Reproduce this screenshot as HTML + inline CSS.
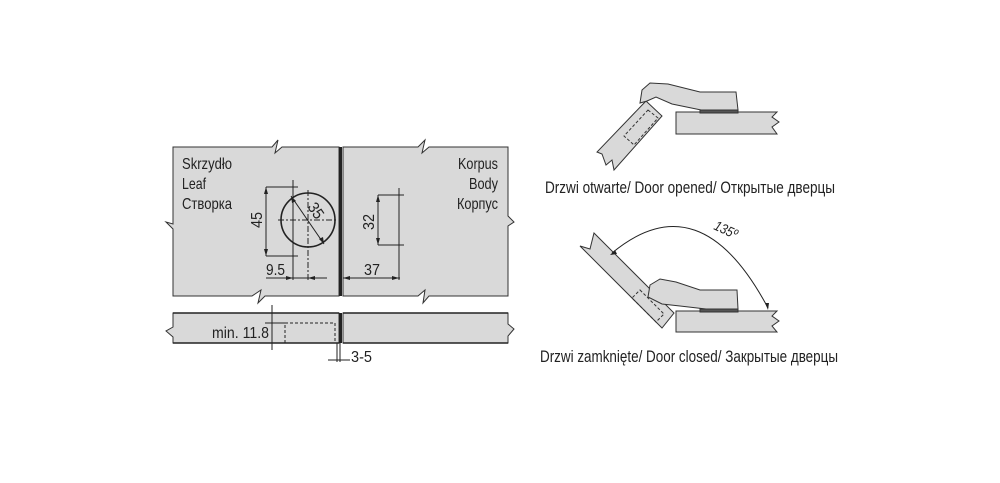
<!DOCTYPE html>
<html><head><meta charset="utf-8"><style>
html,body{margin:0;padding:0;background:#fff;}
svg{display:block;}
text{font-family:"Liberation Sans Narrow","Liberation Sans",sans-serif;fill:#222;}
</style></head><body>
<svg width="1000" height="483" viewBox="0 0 1000 483" xmlns="http://www.w3.org/2000/svg">
<g stroke="#333" stroke-width="1" fill="#d9d9d9">
<path d="M173,147 H272 L278,140 L275,153 L282,147 H339 V296 H265 L258,303 L261,290 L252,296 H173 V229 L166,222 L173,224 Z"/>
<path d="M343,147 H418 L425,140 L422,153 L429,147 H508 V216 L514,222 L508,226 V296 H429 L423,303 L425,290 L418,296 H343 Z"/>
<path d="M173,313 H339 V343 H173 V337 L166,331 L173,327 Z"/>
<path d="M343,313 H508 V324 L514,329 L508,336 V343 H343 Z"/>
</g>
<g stroke="#222" stroke-width="1.5" fill="none">
<line x1="173" y1="313" x2="339" y2="313"/><line x1="343" y1="313" x2="508" y2="313"/>
<line x1="173" y1="343" x2="339" y2="343"/><line x1="343" y1="343" x2="508" y2="343"/>
<line x1="340.5" y1="147" x2="340.5" y2="296" stroke-width="3"/>
<line x1="340.5" y1="313" x2="340.5" y2="343" stroke-width="3"/>
</g>
<g stroke="#222" stroke-width="1" fill="none">
<circle cx="308" cy="220" r="27" stroke-width="1.6"/>
<line x1="278" y1="220" x2="338" y2="220" stroke-dasharray="6,2,2,2"/>
<line x1="308" y1="190" x2="308" y2="280" stroke-dasharray="6,2,2,2"/>
<line x1="291" y1="196" x2="324" y2="244"/>
<line x1="266" y1="187" x2="266" y2="256"/>
<line x1="266" y1="187" x2="298" y2="187"/><line x1="266" y1="256" x2="298" y2="256"/>
<line x1="293" y1="180" x2="293" y2="280"/>
<line x1="266" y1="278" x2="327" y2="278"/>
<line x1="378" y1="195" x2="378" y2="245"/>
<line x1="378" y1="195" x2="404" y2="195"/><line x1="378" y1="245" x2="404" y2="245"/>
<line x1="399" y1="188" x2="399" y2="280"/>
<line x1="343" y1="278" x2="400" y2="278"/>
<rect x="285" y="323" width="50" height="20" stroke-dasharray="3,2"/>
<line x1="272" y1="305" x2="272" y2="350"/>
<line x1="265" y1="323" x2="285" y2="323"/>
<line x1="337" y1="343" x2="337" y2="362"/><line x1="340" y1="343" x2="340" y2="362"/>
<line x1="328" y1="360" x2="350" y2="360"/>
</g>
<g fill="#222">
<path d="M266,187 l-2,7 h4z"/><path d="M266,256 l-2,-7 h4z"/>
<path d="M378,195 l-2,7 h4z"/><path d="M378,245 l-2,-7 h4z"/>
<path d="M293,278 l-7,-2 v4z"/><path d="M308,278 l7,-2 v4z"/>
<path d="M343,278 l7,-2 v4z"/><path d="M399,278 l-7,-2 v4z"/>
<path d="M291,196 l1,7 l4,-2z"/><path d="M324,244 l-1,-7 l-4,2z"/>
</g>
<g font-size="16" lengthAdjust="spacingAndGlyphs">
<text x="182" y="169" textLength="50" lengthAdjust="spacingAndGlyphs">Skrzydło</text>
<text x="182" y="189" textLength="24" lengthAdjust="spacingAndGlyphs">Leaf</text>
<text x="182" y="209" textLength="50" lengthAdjust="spacingAndGlyphs">Створка</text>
<text x="458" y="169" textLength="40" lengthAdjust="spacingAndGlyphs">Korpus</text>
<text x="469" y="189" textLength="29" lengthAdjust="spacingAndGlyphs">Body</text>
<text x="457" y="209" textLength="41" lengthAdjust="spacingAndGlyphs">Корпус</text>
<text x="266" y="275" textLength="19" lengthAdjust="spacingAndGlyphs">9.5</text>
<text x="364" y="275" textLength="16" lengthAdjust="spacingAndGlyphs">37</text>
<text x="212" y="338" textLength="57" lengthAdjust="spacingAndGlyphs">min. 11.8</text>
<text x="351" y="362" textLength="21" lengthAdjust="spacingAndGlyphs">3-5</text>
<text transform="translate(262,228) rotate(-90)" textLength="16" lengthAdjust="spacingAndGlyphs">45</text>
<text transform="translate(374,230) rotate(-90)" textLength="16" lengthAdjust="spacingAndGlyphs">32</text>
<text transform="translate(307,207) rotate(56)" textLength="16" lengthAdjust="spacingAndGlyphs">35</text>
</g>
<!-- open door -->
<g stroke="#333" stroke-width="1" fill="#d9d9d9">
<path d="M676,112 H777 L772,117 L779,122 L772,127 L777,134 H676 Z"/>
<path d="M646,101 L662,116 L614,170 L612,160 L606,165 L602,154 L597,152 Z"/>
<path d="M640,103 L642,90 L650,83 L668,84 L700,92 L736,92 L738,110 L706,111 L672,104 L656,97 L647,101 Z"/>
<rect x="700" y="110" width="38" height="3" fill="#555"/>
<path d="M648,110 L658,118 L634,145 L624,136 Z" fill="none" stroke-dasharray="3,2"/>
</g>
<text x="545" y="193" font-size="17" textLength="290" lengthAdjust="spacingAndGlyphs">Drzwi otwarte/ Door opened/ Открытые дверцы</text>
<!-- closed door -->
<g stroke="#333" stroke-width="1" fill="#d9d9d9">
<path d="M676,311 H777 L772,316 L779,321 L772,326 L777,332 H676 Z"/>
<path d="M594,233 L674,313 L662,328 L580,246 L590,249 Z"/>
<path d="M648,297 L650,285 L660,279 L676,282 L700,290 L737,290 L738,309 L706,309 L680,306 L662,304 Z"/>
<rect x="700" y="309" width="38" height="3" fill="#555"/>
<path d="M640,290 L664,314 L656,322 L632,298 Z" fill="none" stroke-dasharray="3,2"/>
</g>
<path d="M612,253 Q700,180 768,308" stroke="#222" fill="none"/>
<path d="M610,255 l7,-1 l-2,-4z M768,310 l-3,-7 l4,0z" fill="#222"/>
<text transform="translate(713,229) rotate(25)" font-size="14" font-style="italic" textLength="24" lengthAdjust="spacingAndGlyphs">135º</text>
<text x="540" y="362" font-size="17" textLength="298" lengthAdjust="spacingAndGlyphs">Drzwi zamknięte/ Door closed/ Закрытые  дверцы</text>
</svg>
</body></html>
